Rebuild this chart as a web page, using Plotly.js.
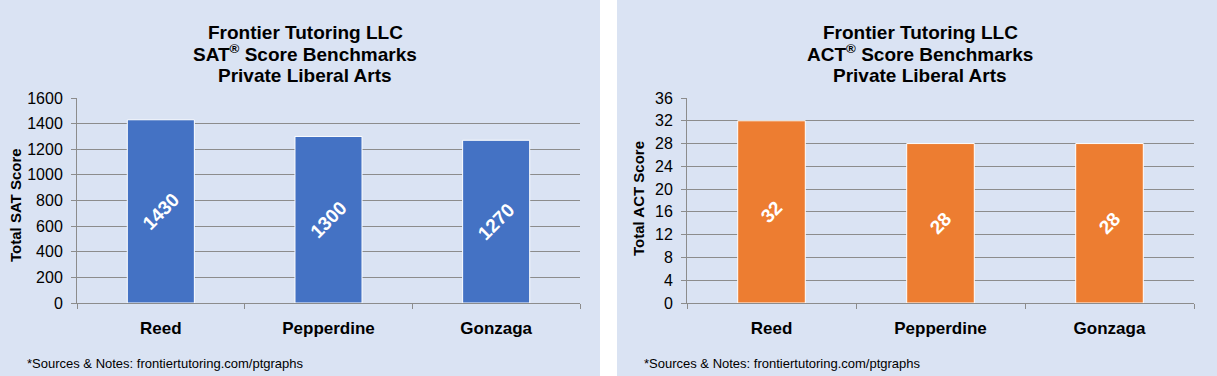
<!DOCTYPE html>
<html>
<head>
<meta charset="utf-8">
<script src="https://cdn.plot.ly/plotly-3.0.1.min.js"></script>
<style>html,body{margin:0;padding:0;background:#fff;}#chart{width:1217px;height:376px;}</style>
</head>
<body>
<div id="chart"></div>
<script>
const colleges = ["Reed", "Pepperdine", "Gonzaga"];
const satScores = [1430, 1300, 1270];
const actScores = [32, 28, 28];
const satTicks = [0, 200, 400, 600, 800, 1000, 1200, 1400, 1600];
const actTicks = [0, 4, 8, 12, 16, 20, 24, 28, 32, 36];
const titleLinesSAT = ["Frontier Tutoring LLC", "SAT<sup>®</sup> Score Benchmarks", "Private Liberal Arts"];
const titleLinesACT = ["Frontier Tutoring LLC", "ACT<sup>®</sup> Score Benchmarks", "Private Liberal Arts"];
const footnote = "*Sources & Notes: frontiertutoring.com/ptgraphs";

const W = 1217, H = 376;
const px = x => x / W;
const py = y => 1 - y / H;
const bg = "#dae3f3";
const grid = "#8c8c8c";
const baseFont = "Liberation Sans, Arial, sans-serif";

function barTrace(vals, color, xa, ya) {
  return {
    type: "bar", x: colleges, y: vals, xaxis: xa, yaxis: ya,
    marker: {color: color, line: {color: "#ffffff", width: 1}},
    text: vals.map(String), textposition: "inside", insidetextanchor: "middle",
    textangle: -45, textfont: {family: baseFont, size: 19, color: "#ffffff", weight: "bold"},
    hoverinfo: "skip", showlegend: false, cliponaxis: false
  };
}

function xAxis(d0, d1, anchor) {
  return {
    domain: [px(d0), px(d1)], anchor: anchor, type: "category",
    showgrid: false, showline: true, linecolor: grid, linewidth: 1,
    ticks: "outside", tickson: "boundaries", ticklen: 5, tickcolor: grid,
    tickfont: {family: baseFont, size: 17, color: "#000", weight: "bold"},
    fixedrange: true, zeroline: false, ticklabelstandoff: 10
  };
}
function yAxis(range, ticks, anchor) {
  return {
    domain: [py(303), py(98)], anchor: anchor, range: range,
    tickmode: "array", tickvals: ticks, ticktext: ticks.map(String),
    showgrid: true, gridcolor: grid, gridwidth: 1,
    showline: true, linecolor: grid, linewidth: 1,
    ticks: "outside", ticklen: 5, tickcolor: grid,
    tickfont: {family: baseFont, size: 16, color: "#000"},
    zeroline: false, fixedrange: true, ticklabelstandoff: 5
  };
}

const annotations = [];
function addTitle(lines, cx) {
  const ys = [32, 53.5, 75];
  lines.forEach((t, i) => annotations.push({
    xref: "paper", yref: "paper", x: px(cx), y: py(ys[i]), xanchor: "center", yanchor: "middle",
    text: "<b>" + t + "</b>", showarrow: false,
    font: {family: baseFont, size: 19, color: "#000"}
  }));
}
addTitle(titleLinesSAT, 305);
addTitle(titleLinesACT, 920);
annotations.push({xref: "paper", yref: "paper", x: px(15), y: py(205), textangle: -90,
  xanchor: "center", yanchor: "middle", showarrow: false,
  text: "<b>Total SAT Score</b>", font: {family: baseFont, size: 15, color: "#000"}});
annotations.push({xref: "paper", yref: "paper", x: px(638), y: py(199), textangle: -90,
  xanchor: "center", yanchor: "middle", showarrow: false,
  text: "<b>Total ACT Score</b>", font: {family: baseFont, size: 15, color: "#000"}});
[25, 642].forEach(x0 => annotations.push({xref: "paper", yref: "paper", x: px(x0), y: py(363),
  xanchor: "left", yanchor: "middle", showarrow: false, text: footnote,
  font: {family: baseFont, size: 13, color: "#000"}}));

const layout = {
  width: W, height: H, margin: {l: 0, r: 0, t: 0, b: 0},
  paper_bgcolor: "#ffffff", plot_bgcolor: "rgba(0,0,0,0)",
  bargap: 0.6, showlegend: false,
  xaxis: xAxis(77, 580, "y"),
  yaxis: yAxis([0, 1600], satTicks, "x"),
  xaxis2: xAxis(687, 1194, "y2"),
  yaxis2: yAxis([0, 36], actTicks, "x2"),
  shapes: [
    {type: "rect", xref: "paper", yref: "paper", x0: 0, x1: px(600), y0: 0, y1: 1, fillcolor: bg, line: {width: 0}, layer: "below"},
    {type: "rect", xref: "paper", yref: "paper", x0: px(617), x1: 1, y0: 0, y1: 1, fillcolor: bg, line: {width: 0}, layer: "below"}
  ],
  annotations: annotations
};

Plotly.newPlot("chart", [barTrace(satScores, "#4472c4", "x", "y"), barTrace(actScores, "#ed7d31", "x2", "y2")], layout, {displayModeBar: false, staticPlot: true});
</script>
</body>
</html>
